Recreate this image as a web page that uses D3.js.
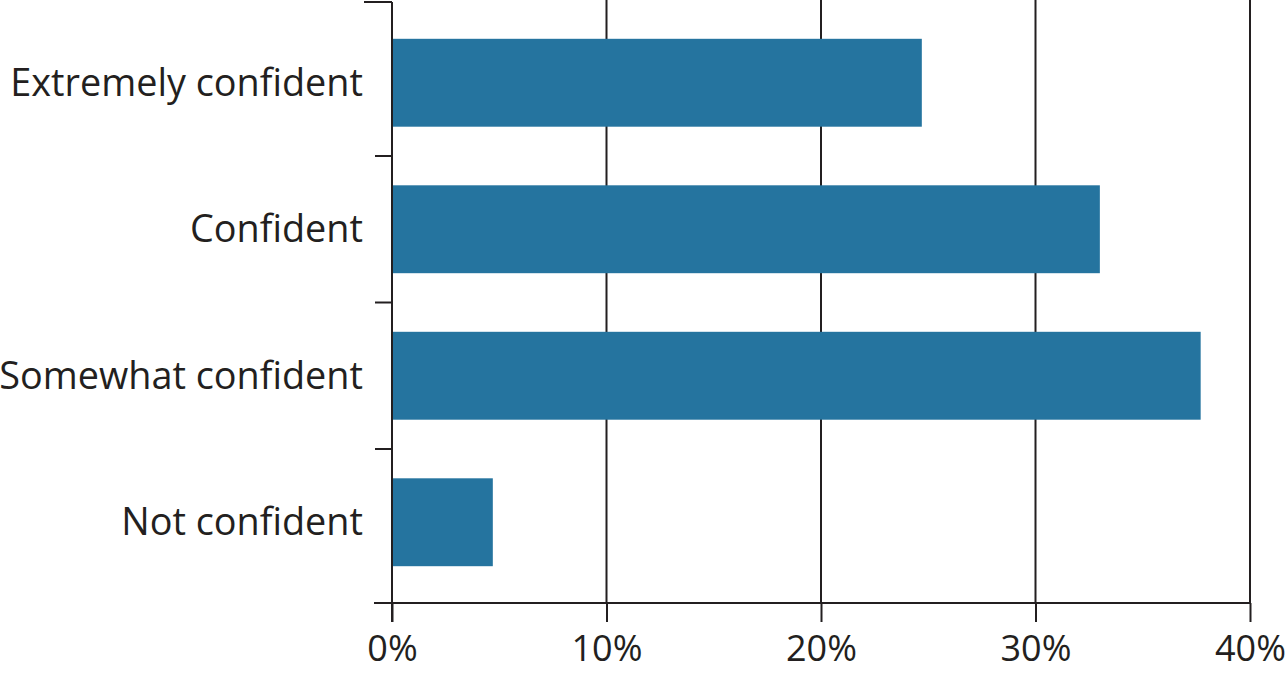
<!DOCTYPE html>
<meta charset="utf-8">
<style>
body { margin: 0; background: #fff; }
svg text { font-family: "Open Sans", "Noto Sans", sans-serif; }
</style>
<svg width="1288" height="677"></svg>
<script src="https://cdn.jsdelivr.net/npm/d3@7"></script>
<script>

var categories = ["Extremely confident", "Confident", "Somewhat confident", "Not confident"];
var shares = [24.7, 33.0, 37.7, 4.7];
var xTicks = [0, 10, 20, 30, 40];

var svg = d3.select("svg"),
    ink = "#231f20",
    barColor = "#25749f";

var plotLeft = 392, plotRight = 1250, plotTop = 2, plotBottom = 603;

var x = d3.scaleLinear()
    .domain([0, 40])
    .range([plotLeft, plotRight]);

var y = d3.scaleBand()
    .domain(categories)
    .range([plotTop + 7.5, plotBottom - 7.5])
    .paddingInner(0.4)
    .paddingOuter(0.2);

// vertical grid lines
svg.append("g")
  .selectAll("line")
  .data(xTicks.slice(1))
  .enter().append("line")
    .attr("x1", function(d) { return x(d); })
    .attr("x2", function(d) { return x(d); })
    .attr("y1", 0)
    .attr("y2", plotBottom)
    .attr("stroke", ink)
    .attr("stroke-width", 2);

// bars
svg.append("g")
  .selectAll("rect")
  .data(categories)
  .enter().append("rect")
    .attr("x", x(0))
    .attr("y", function(d) { return y(d); })
    .attr("width", function(d, i) { return x(shares[i]) - x(0); })
    .attr("height", y.bandwidth())
    .attr("fill", barColor);

// x axis
var xAxis = svg.append("g")
    .attr("transform", "translate(0," + plotBottom + ")")
    .call(d3.axisBottom(x)
      .tickValues(xTicks)
      .tickSize(19)
      .tickPadding(10)
      .tickFormat(function(d) { return d + "%"; }));

xAxis.select(".domain").remove();
xAxis.append("line")
    .attr("x1", plotLeft - 18)
    .attr("x2", plotRight)
    .attr("stroke", ink)
    .attr("stroke-width", 2);
xAxis.selectAll(".tick line").attr("stroke", ink).attr("stroke-width", 2);
xAxis.selectAll(".tick text")
    .attr("fill", ink)
    .style("font-size", "36px")
    .attr("dy", "0.71em")
    .attr("y", 32);

// y axis: ticks at band boundaries
var boundaries = categories.slice(1).map(function(d) {
  return y(d) - y.step() * y.paddingInner() / 2;
});

var yAxis = svg.append("g");
yAxis.append("line")
    .attr("x1", plotLeft).attr("x2", plotLeft)
    .attr("y1", plotTop).attr("y2", plotBottom + 19)
    .attr("stroke", ink)
    .attr("stroke-width", 2);
yAxis.append("line")
    .attr("x1", plotLeft - 28).attr("x2", plotLeft)
    .attr("y1", plotTop).attr("y2", plotTop)
    .attr("stroke", ink)
    .attr("stroke-width", 2);
yAxis.selectAll(".sep")
  .data(boundaries)
  .enter().append("line")
    .attr("class", "sep")
    .attr("x1", plotLeft - 17).attr("x2", plotLeft)
    .attr("y1", function(d) { return d; })
    .attr("y2", function(d) { return d; })
    .attr("stroke", ink)
    .attr("stroke-width", 2);

yAxis.selectAll("text")
  .data(categories)
  .enter().append("text")
    .attr("x", plotLeft - 29)
    .attr("y", function(d) { return y(d) + y.bandwidth() / 2; })
    .attr("dy", "0.35em")
    .attr("text-anchor", "end")
    .attr("fill", ink)
    .style("font-size", "37.8px")
    .text(function(d) { return d; });

</script>
